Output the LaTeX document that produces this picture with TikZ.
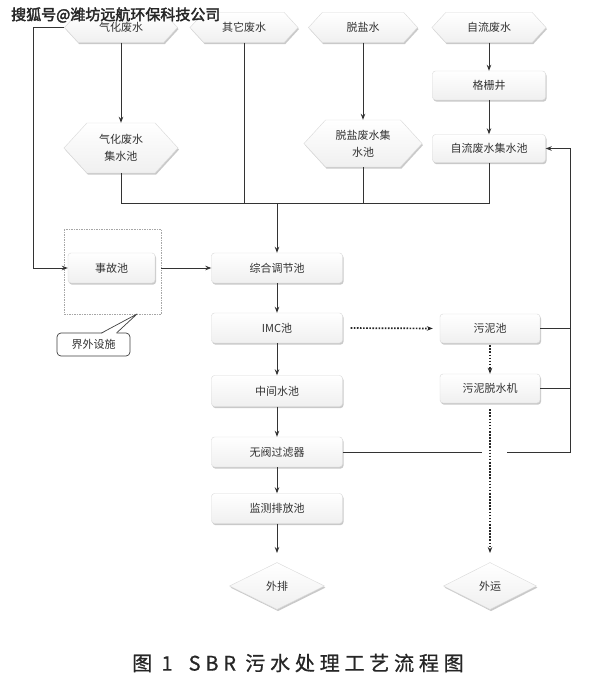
\documentclass[tikz,border=0pt]{standalone}
\usepackage{fontspec}
\setmainfont{Noto Sans CJK SC}
\newfontfamily\wmfont[FakeBold=2.5]{Noto Sans CJK SC}
\newfontfamily\capfont[LetterSpace=24,FakeBold=0.8]{Noto Sans CJK SC}
\usetikzlibrary{shapes.geometric,shapes.symbols,shadows,arrows.meta}
\begin{document}
\begin{tikzpicture}[x=1pt,y=-1pt,
  ln/.style={line width=0.9pt, draw=black!80},
  arr/.style={ln, -{Stealth[length=6pt,width=4.5pt]}},
  dotarr/.style={line width=1.7pt, draw=black!85, dash pattern=on 1.6pt off 1.5pt, -{Stealth[length=6pt,width=4.5pt]}},
  base/.style={font=\fontsize{11}{17}\selectfont, text=black!80, align=center, inner sep=1pt, draw=gray!30, line width=0.4pt, top color=white, bottom color=gray!12, drop shadow={shadow xshift=1pt, shadow yshift=-1.6pt, opacity=0.35, fill=black!60}},
  box/.style={base, rectangle, rounded corners=3pt, minimum height=29pt},
  hex/.style={base, signal, signal to=west and east, signal pointer angle=95},
  dia/.style={base, diamond, inner sep=0pt},
]
\fill[white] (0,0) rectangle (602,697);
\useasboundingbox (0,0) rectangle (602,697);

% top sources
\node[hex, minimum width=113pt, minimum height=30pt] (qh) at (121,27.5) {气化废水};
\node[hex, minimum width=108pt, minimum height=30pt] (qt) at (244,27.5) {其它废水};
\node[hex, minimum width=109pt, minimum height=30pt] (ty) at (363,27.5) {脱盐水};
\node[hex, minimum width=114pt, minimum height=30pt] (zl) at (489,27.5) {自流废水};

\node[box, minimum width=113pt] (gs) at (489,85.5) {格栅井};
\node[box, minimum width=113pt, minimum height=28pt] (zc) at (489,148.5) {自流废水集水池};
\node[hex, minimum width=114pt, minimum height=50pt] (qc) at (121,148) {气化废水\\集水池};
\node[hex, minimum width=118pt, minimum height=47pt] (tc) at (363,143.5) {脱盐废水集\\水池};

% main column
\node[box, minimum width=131pt, minimum height=30pt] (zh) at (277,268) {综合调节池};
\node[box, minimum width=87pt, minimum height=30pt] (sg) at (111.5,268) {事故池};
\node[box, minimum width=131pt, minimum height=30pt] (imc) at (277,328) {IMC池};
\node[box, minimum width=131pt, minimum height=31pt] (zj) at (277,391) {中间水池};
\node[box, minimum width=131pt, minimum height=30pt] (wf) at (277,452) {无阀过滤器};
\node[box, minimum width=131pt, minimum height=30pt] (jc) at (277,508.5) {监测排放池};
\node[box, minimum width=100pt] (wn) at (490,328.5) {污泥池};
\node[box, minimum width=100pt] (ws) at (490,388.5) {污泥脱水机};
\node[dia, minimum width=95pt, minimum height=47pt] (wp) at (277,586) {外排};
\node[dia, minimum width=93pt, minimum height=47pt] (wy) at (490,586) {外运};

% dashed boundary and callout
\draw[gray!70, line width=0.6pt, dash pattern=on 1.5pt off 1pt] (64,229) rectangle (161,314);
\node[draw=black!75, line width=0.7pt, fill=white, rounded corners=4pt, minimum width=73pt, minimum height=23pt, inner sep=1pt, font=\fontsize{11}{13}\selectfont, text=black!80] (jw) at (93.5,344.5) {界外设施};
\fill[white] (101.5,333.9) -- (137,314) -- (116.5,333.9) -- cycle;
\draw[black!75, line width=0.7pt, line join=round] (101.5,333) -- (137,314) -- (116.5,333);

% connectors
\coordinate (j) at (277,203);
\draw[arr] (qh.south) -- (qc.north);
\draw[arr] (ty.south) -- (tc.north);
\draw[arr] (zl.south) -- (gs.north);
\draw[arr] (gs.south) -- (zc.north);
\draw[ln] (qc.south) |- (zc.south |- j) -- (zc.south);
\draw[ln] (qt.south) -- (qt.south |- j);
\draw[ln] (tc.south) -- (tc.south |- j);
\draw[arr] (j) -- (zh.north);
\draw[arr] (qh.west) -- ++(-31,0) |- (sg.west);
\draw[arr] (sg.east) ++(6,0) -- (zh.west);
\draw[arr] (zh.south) -- (imc.north);
\draw[arr] (imc.south) -- (zj.north);
\draw[arr] (zj.south) -- (wf.north);
\draw[arr] (wf.south) -- (jc.north);
\coordinate (e1) at (277,553);
\draw[arr] (jc.south) -- (e1);
\draw[dotarr, shorten <=8pt, shorten >=7pt] (imc.east) -- (wn.west);
\draw[dotarr, shorten <=2pt] (wn.south) -- (ws.north);
\coordinate (e2) at (490,553);
\draw[dotarr, shorten <=6pt] (ws.south) -- (e2);
\coordinate (r) at (570,452);
\coordinate (g1) at (482,452);
\coordinate (g2) at (507,452);
\draw[ln] (wf.east) -- (g1);
\draw[arr] (g2) -- (r) |- (zc.east);
\draw[ln] (wn.east) -- (wn.east -| r);
\draw[ln] (ws.east) -- (ws.east -| r);

% caption and watermark
\node[font=\capfont\fontsize{20}{20}\selectfont, text=black!85] (cap) at (298,663) {图 1\hspace{0.8em}SBR 污水处理工艺流程图};
\node[font=\wmfont\fontsize{15}{15}\selectfont, text=black!85, anchor=west, inner sep=0pt] (wm) at (11,15) {搜狐号@潍坊远航环保科技公司};
\end{tikzpicture}
\end{document}
